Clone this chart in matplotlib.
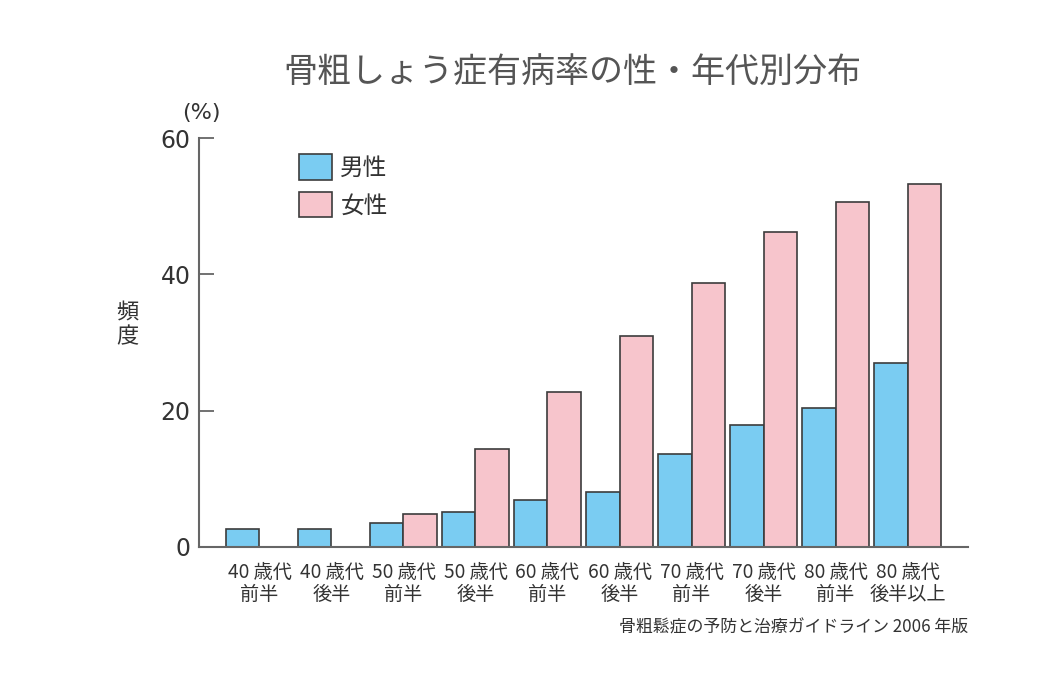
import numpy as np
import matplotlib.pyplot as plt
from matplotlib.patches import Patch

plt.rcParams['font.family'] = ['Noto Sans CJK JP', 'DejaVu Sans']

# データ
age_labels = ["40 歳代\n前半", "40 歳代\n後半", "50 歳代\n前半", "50 歳代\n後半", "60 歳代\n前半",
              "60 歳代\n後半", "70 歳代\n前半", "70 歳代\n後半", "80 歳代\n前半", "80 歳代\n後半以上"]
male = [2.6, 2.6, 3.5, 5.1, 6.9, 8.1, 13.7, 17.9, 20.4, 27.0]
female = [0, 0, 4.9, 14.4, 22.8, 31.0, 38.7, 46.2, 50.6, 53.3]
y_ticks = [0, 20, 40, 60]

male_color = "#7accf2"
female_color = "#f7c5cc"
edge = "#3c3c3c"
text_color = "#333333"

fig = plt.figure(figsize=(10.53, 6.75), dpi=100)
ax = fig.add_axes([199 / 1053, 128 / 675, 769 / 1053, 409 / 675])

x = np.arange(len(age_labels))
w = 0.468
fem = np.array(female)
ax.bar(x - w / 2, male, w, color=male_color, edgecolor=edge, linewidth=1.2)
ax.bar(x[fem > 0] + w / 2, fem[fem > 0], w, color=female_color, edgecolor=edge, linewidth=1.2)

ax.set_xlim(-0.84, 9.84)
ax.set_ylim(0, 60)
ax.set_yticks(y_ticks)
ax.set_yticklabels([str(t) for t in y_ticks], fontsize=17, color=text_color, family="DejaVu Sans")
ax.set_xticks(x)
ax.set_xticklabels(age_labels, fontsize=13.8, color=text_color, linespacing=1.05)
ax.tick_params(axis="x", length=0, pad=11)
ax.tick_params(axis="y", direction="in", length=11, width=1.3, color="#666666", pad=6)

for s in ["top", "right"]:
    ax.spines[s].set_visible(False)
for s in ["left", "bottom"]:
    ax.spines[s].set_color("#666666")
    ax.spines[s].set_linewidth(1.5)

# 凡例
handles = [Patch(facecolor=male_color, edgecolor=edge, linewidth=1.2, label="男性"),
           Patch(facecolor=female_color, edgecolor=edge, linewidth=1.2, label="女性")]
leg = fig.legend(handles=handles, loc="upper left", bbox_to_anchor=(299 / 1053, 1 - 154 / 675),
                 frameon=False, fontsize=17, handlelength=1.4, handleheight=1.3,
                 handletextpad=0.35, labelspacing=0.5, borderpad=0, borderaxespad=0)
for t in leg.get_texts():
    t.set_color(text_color)

fig.text(572 / 1053, 1 - 72 / 675, "骨粗しょう症有病率の性・年代別分布", ha="center", va="center",
         fontsize=24.5, color="#555555")
fig.text(201 / 1053, 1 - 113 / 675, "(%)", ha="center", va="center", fontsize=16,
         color=text_color, family="DejaVu Sans")
fig.text(127 / 1053, 1 - 325 / 675, "頻\n度", ha="center", va="center", fontsize=16,
         color=text_color, linespacing=1.0)
fig.text(968 / 1053, 1 - 628 / 675, "骨粗鬆症の予防と治療ガイドライン 2006 年版", ha="right",
         va="center", fontsize=12.2, color=text_color)

plt.savefig("out.png", dpi=100)
